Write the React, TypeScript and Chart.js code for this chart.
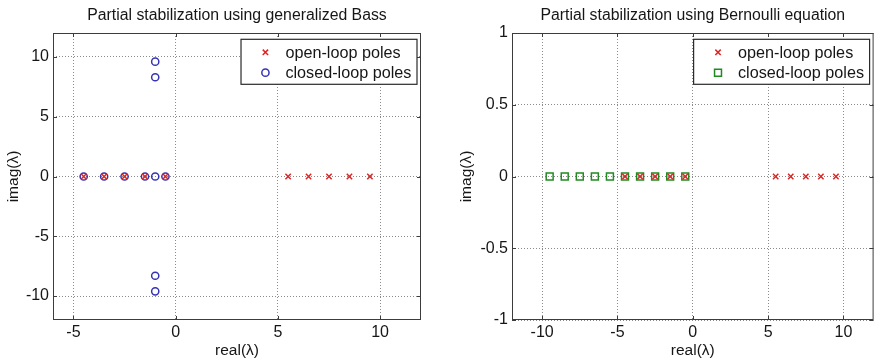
import React, { useEffect, useRef } from 'react';
import { Chart, registerables } from 'chart.js';

Chart.register(...registerables);

const FONT = '"Liberation Sans", Arial, Helvetica, sans-serif';
const TEXT = '#161616';

// Pole locations: generalized Bass design
const bassOpenReal = [-4.5, -3.5, -2.5, -1.5, -0.5, 5.5, 6.5, 7.5, 8.5, 9.5];
const bassOpenImag = [0, 0, 0, 0, 0, 0, 0, 0, 0, 0];
const bassClosedReal = [-4.5, -3.5, -2.5, -1.5, -1, -0.5, -1, -1, -1, -1];
const bassClosedImag = [0, 0, 0, 0, 0, 0, 9.6, 8.3, -8.3, -9.6];
const bassXTicks = [-5, 0, 5, 10];
const bassYTicks = [-10, -5, 0, 5, 10];

// Pole locations: Bernoulli equation design
const bernOpenReal = [-4.5, -3.5, -2.5, -1.5, -0.5, 5.5, 6.5, 7.5, 8.5, 9.5];
const bernOpenImag = [0, 0, 0, 0, 0, 0, 0, 0, 0, 0];
const bernClosedReal = [-9.5, -8.5, -7.5, -6.5, -5.5, -4.5, -3.5, -2.5, -1.5, -0.5];
const bernClosedImag = [0, 0, 0, 0, 0, 0, 0, 0, 0, 0];
const bernXTicks = [-10, -5, 0, 5, 10];
const bernYTicks = [-1, -0.5, 0, 0.5, 1];

const RED = '#e02424';
const BLUE = '#3434b4';
const GREEN = '#228a22';

type Marker = 'crossRot' | 'circle' | 'rect';
interface LegendEntry { label: string; style: Marker; color: string; }

function drawMarker(ctx: CanvasRenderingContext2D, style: Marker, x: number, y: number, color: string) {
  ctx.save();
  ctx.strokeStyle = color;
  ctx.lineWidth = 1.5;
  ctx.beginPath();
  if (style === 'crossRot') {
    const d = 3.8 * Math.SQRT1_2;
    ctx.moveTo(x - d, y - d); ctx.lineTo(x + d, y + d);
    ctx.moveTo(x - d, y + d); ctx.lineTo(x + d, y - d);
  } else if (style === 'circle') {
    ctx.arc(x, y, 3.6, 0, Math.PI * 2);
  } else {
    const h = 4.9 * Math.SQRT1_2;
    ctx.rect(x - h, y - h, 2 * h, 2 * h);
  }
  ctx.stroke();
  ctx.restore();
}

// Title centred over the axes, axes box with inward tick marks,
// and a boxed legend in the upper right corner
const framePlugin = {
  id: 'frame',
  afterDatasetsDraw(chart: any, _args: any, opts: any) {
    const { ctx, chartArea } = chart;
    const { left, right, top, bottom } = chartArea;
    const xs = chart.scales.x;
    const ys = chart.scales.y;
    ctx.save();

    ctx.fillStyle = TEXT;
    ctx.font = `15.8px ${FONT}`;
    ctx.textAlign = 'center';
    ctx.textBaseline = 'middle';
    ctx.fillText(opts.title || '', (left + right) / 2, 16);

    ctx.strokeStyle = '#3c3c3c';
    ctx.lineWidth = 1;
    ctx.strokeRect(left + 0.5, top + 0.5, right - left - 1, bottom - top - 1);
    ctx.beginPath();
    const tl = 4;
    for (const t of xs.ticks) {
      const px = Math.round(xs.getPixelForValue(t.value)) + 0.5;
      ctx.moveTo(px, bottom); ctx.lineTo(px, bottom - tl);
      ctx.moveTo(px, top); ctx.lineTo(px, top + tl);
    }
    for (const t of ys.ticks) {
      const py = Math.round(ys.getPixelForValue(t.value)) + 0.5;
      ctx.moveTo(left, py); ctx.lineTo(left + tl, py);
      ctx.moveTo(right, py); ctx.lineTo(right - tl, py);
    }
    ctx.stroke();

    // legend
    const entries: LegendEntry[] = opts.entries || [];
    ctx.font = `16.2px ${FONT}`;
    let maxW = 0;
    for (const e of entries) maxW = Math.max(maxW, ctx.measureText(e.label).width);
    const bw = 44 + maxW + 6;
    const bh = 45;
    const bx = right - 4 - bw;
    const by = top + 6.3;
    ctx.fillStyle = '#ffffff';
    ctx.fillRect(bx, by, bw, bh);
    ctx.strokeStyle = '#2a2a2a';
    ctx.lineWidth = 1.2;
    ctx.strokeRect(bx, by, bw, bh);
    entries.forEach((e, i) => {
      const cy = by + 13 + i * 20.4;
      drawMarker(ctx, e.style, bx + 24.4, cy, e.color);
      ctx.fillStyle = TEXT;
      ctx.textAlign = 'left';
      ctx.textBaseline = 'middle';
      ctx.fillText(e.label, bx + 44.4, cy + 1);
    });
    ctx.restore();
  },
};

interface PanelProps {
  title: string;
  openReal: number[]; openImag: number[];
  closedReal: number[]; closedImag: number[];
  closedStyle: Marker; closedColor: string; closedRadius: number;
  xMin: number; xMax: number; xTicks: number[];
  yMin: number; yMax: number; yTicks: number[];
  yAxisWidth: number; padRight: number; yTitlePad: number;
}

function PolePanel(p: PanelProps) {
  const ref = useRef<HTMLCanvasElement>(null);
  useEffect(() => {
    if (!ref.current) return;
    const openPts = p.openReal.map((x, i) => ({ x, y: p.openImag[i] }));
    const closedPts = p.closedReal.map((x, i) => ({ x, y: p.closedImag[i] }));
    const gridOpts = { color: '#8c8c8c', lineWidth: 1, drawTicks: false };
    const borderOpts = { display: false, dash: [1, 2] };
    const tickFont = { family: FONT, size: 16 };
    const chart = new Chart(ref.current, {
      type: 'scatter',
      data: {
        datasets: [
          {
            label: 'open-loop poles',
            data: openPts,
            pointStyle: 'crossRot',
            pointRadius: 3.8,
            pointBorderWidth: 1.5,
            borderColor: RED,
            backgroundColor: 'rgba(0,0,0,0)',
            showLine: false,
          },
          {
            label: 'closed-loop poles',
            data: closedPts,
            pointStyle: p.closedStyle,
            pointRadius: p.closedRadius,
            pointBorderWidth: 1.5,
            borderColor: p.closedColor,
            backgroundColor: 'rgba(0,0,0,0)',
            showLine: false,
          },
        ],
      },
      options: {
        responsive: false,
        animation: false,
        devicePixelRatio: 1,
        layout: { padding: { left: 0, right: p.padRight, top: 33, bottom: 0 } },
        plugins: {
          legend: { display: false },
          tooltip: { enabled: false },
          title: { display: false },
          frame: {
            title: p.title,
            entries: [
              { label: 'open-loop poles', style: 'crossRot', color: RED },
              { label: 'closed-loop poles', style: p.closedStyle, color: p.closedColor },
            ],
          },
        } as any,
        scales: {
          x: {
            type: 'linear',
            min: p.xMin,
            max: p.xMax,
            afterBuildTicks: (s: any) => { s.ticks = p.xTicks.map((v) => ({ value: v })); },
            afterFit: (s: any) => { s.height = 42; },
            grid: gridOpts,
            border: borderOpts,
            ticks: { color: TEXT, font: tickFont, padding: 3, maxRotation: 0, callback: (v: any) => String(v) },
            title: { display: true, text: 'real(λ)', color: TEXT, font: { family: FONT, size: 15.5 }, padding: { top: 0, bottom: 1.7 } },
          },
          y: {
            type: 'linear',
            min: p.yMin,
            max: p.yMax,
            afterBuildTicks: (s: any) => { s.ticks = p.yTicks.map((v) => ({ value: v })); },
            afterFit: (s: any) => { s.width = p.yAxisWidth; },
            grid: gridOpts,
            border: borderOpts,
            ticks: { color: TEXT, font: tickFont, padding: 4, callback: (v: any) => String(v) },
            title: { display: true, text: 'imag(λ)', color: TEXT, font: { family: FONT, size: 15.5 }, padding: { top: p.yTitlePad, bottom: 0 } },
          },
        },
      } as any,
      plugins: [framePlugin],
    });
    return () => chart.destroy();
  }, []);
  return <canvas ref={ref} width={440} height={362} style={{ display: 'block', width: 440, height: 362 }} />;
}

export default function App() {
  return (
    <div style={{ position: 'absolute', left: 0, top: 0, width: 880, height: 362, display: 'flex', background: '#fff' }}>
      <PolePanel
        title="Partial stabilization using generalized Bass"
        openReal={bassOpenReal} openImag={bassOpenImag}
        closedReal={bassClosedReal} closedImag={bassClosedImag}
        closedStyle="circle" closedColor={BLUE} closedRadius={3.6}
        xMin={-6} xMax={12} xTicks={bassXTicks}
        yMin={-12} yMax={12} yTicks={bassYTicks}
        yAxisWidth={53} padRight={19} yTitlePad={4.4}
      />
      <PolePanel
        title="Partial stabilization using Bernoulli equation"
        openReal={bernOpenReal} openImag={bernOpenImag}
        closedReal={bernClosedReal} closedImag={bernClosedImag}
        closedStyle="rect" closedColor={GREEN} closedRadius={4.9}
        xMin={-12} xMax={12} xTicks={bernXTicks}
        yMin={-1} yMax={1} yTicks={bernYTicks}
        yAxisWidth={72} padRight={1} yTitlePad={17}
      />
    </div>
  );
}
